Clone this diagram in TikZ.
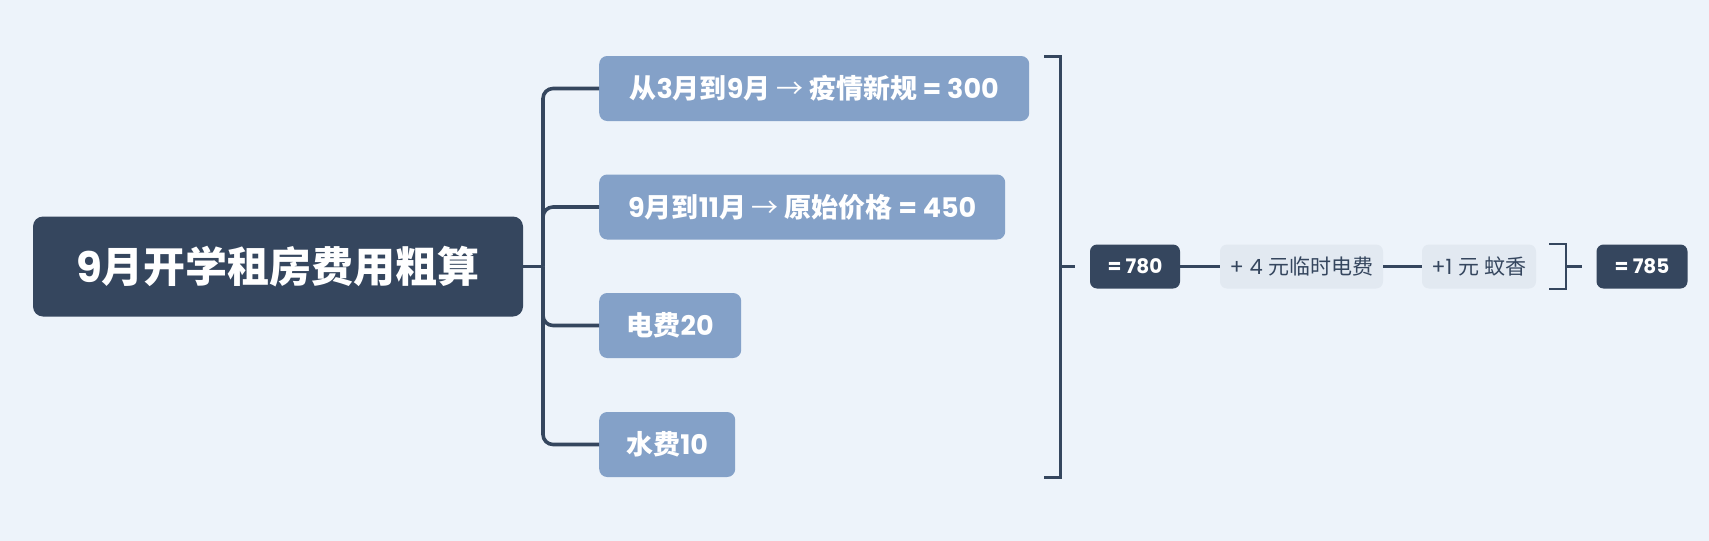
\documentclass[tikz,border=0pt]{standalone}
\usepackage{fontspec}
\setmainfont{Poppins}
\newfontfamily\cjk{Noto Sans CJK SC}
\newcommand{\zh}[1]{{\cjk #1}}
\newcommand{\arr}{{\cjk\mdseries →}}
\definecolor{bgc}{HTML}{EDF3FA}
\definecolor{darkc}{HTML}{35465E}
\definecolor{midc}{HTML}{84A1C8}
\definecolor{lightc}{HTML}{E2E9F1}
\begin{document}
\begin{tikzpicture}[x=1pt,y=-1pt,
  rootbox/.style={fill=darkc, rounded corners=10pt, minimum width=490pt, minimum height=100pt, inner sep=0pt, text=white, font=\bfseries\fontsize{42}{46}\selectfont},
  childbox/.style={fill=midc, rounded corners=8pt, minimum height=65pt, inner sep=0pt, anchor=west, text=white, font=\bfseries\fontsize{27}{32}\selectfont},
  sumbox/.style={fill=darkc, rounded corners=7pt, minimum height=44pt, minimum width=90pt, inner sep=0pt, text=white, font=\bfseries\fontsize{20}{24}\selectfont},
  addbox/.style={fill=lightc, rounded corners=7pt, minimum height=44pt, inner sep=0pt, text=darkc, font=\fontsize{21}{25}\selectfont},
  conn/.style={draw=darkc, line width=3.6pt},
  thin/.style={draw=darkc, line width=2.4pt}]
\fill[bgc] (0,0) rectangle (1709,541);
\useasboundingbox (0,0) rectangle (1709,541);

\node[rootbox] (root) at (278,266.5) {9\zh{月开学租房费用粗算}};

\node[childbox, minimum width=430pt] (c1) at (599,88.5) {\zh{从}3\zh{月到}9\zh{月} \arr{} \zh{疫情新规} = 300};
\node[childbox, minimum width=406pt] (c2) at (599,207) {9\zh{月到}11\zh{月} \arr{} \zh{原始价格} = 450};
\node[childbox, minimum width=142pt] (c3) at (599,325.5) {\zh{电费}20};
\node[childbox, minimum width=136pt] (c4) at (599,444.5) {\zh{水费}10};

\coordinate (tr) at (543,266.5);
\draw[conn] (root.east) -- (tr);
\foreach \c in {c1,c2,c3,c4}
  \draw[conn, rounded corners=10pt] (tr) |- (\c.west);

% big bracket
\coordinate (bt0) at (1044,56);
\coordinate (bt1) at (1060,56);
\coordinate (bb1) at (1060,477);
\coordinate (bb0) at (1044,477);
\coordinate (bm0) at (1060,266.5);
\coordinate (bm1) at (1075,266.5);
\draw[conn, line width=3pt] (bt0) -- (bt1) -- (bb1) -- (bb0);
\draw[conn, line width=3pt] (bm0) -- (bm1);

\node[sumbox] (s780) at (1135,266.5) {= 780};
\node[addbox, minimum width=163pt] (s4) at (1301.5,266.5) {+ 4 \zh{元临时电费}};
\node[addbox, minimum width=114pt] (s1) at (1479,266.5) {+1 \zh{元} \zh{蚊香}};
\draw[thin] (s780.east) -- (s4.west);
\draw[thin] (s4.east) -- (s1.west);

% small bracket
\coordinate (st0) at (1549,244);
\coordinate (st1) at (1566,244);
\coordinate (sb1) at (1566,289);
\coordinate (sb0) at (1549,289);
\coordinate (sm0) at (1566,266.5);
\coordinate (sm1) at (1582,266.5);
\draw[thin, line width=2.6pt] (st0) -- (st1) -- (sb1) -- (sb0);
\draw[thin] (sm0) -- (sm1);

\node[sumbox, minimum width=91pt] (s785) at (1642,266.5) {= 785};
\end{tikzpicture}
\end{document}
